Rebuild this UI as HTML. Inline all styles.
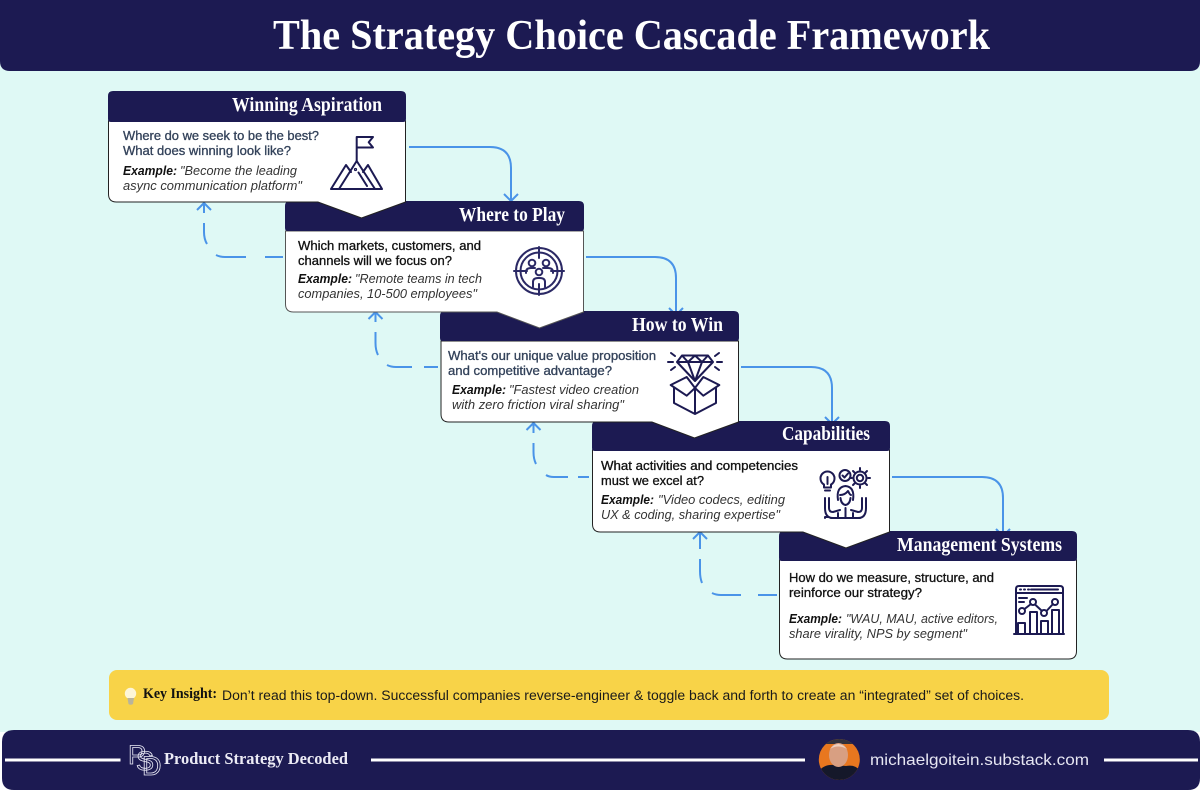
<!DOCTYPE html>
<html><head><meta charset="utf-8"><title>The Strategy Choice Cascade Framework</title>
<style>
html,body{margin:0;padding:0;background:#fff;width:1200px;height:793px;overflow:hidden}
svg{display:block}
text{font-family:"Liberation Sans",sans-serif}
.t{font-family:"Liberation Serif",serif;font-weight:700;font-size:20px;fill:#fff}
.q{font-size:12.500px;fill:#111;stroke:#111;stroke-width:.3}
.s{fill:#33425a;stroke:#33425a}
.eb{font-size:12.500px;font-weight:700;font-style:italic;fill:#111}
.e{font-size:12.500px;font-style:italic;fill:#333}
.card{fill:#fff;stroke:#222;stroke-width:1}
.hd{fill:#1c1a52}
.i{fill:none;stroke:#1c1a52;stroke-width:2;stroke-linejoin:round;stroke-linecap:round}
.a{fill:none;stroke:#4a94e8;stroke-width:2;stroke-linecap:butt;stroke-linejoin:round}
.p{font-size:27px;fill:none;stroke:#e8e8f4;stroke-width:.8}
</style></head><body>
<svg width="1200" height="793" viewBox="0 0 1200 793" xmlns="http://www.w3.org/2000/svg">
<rect width="1200" height="793" fill="#fff"/>
<rect y="0" width="1200" height="732" fill="#dff9f5"/>
<path class="hd" d="M0 0H1200V61Q1200 71 1190 71H10Q0 71 0 61Z"/>
<text x="273" y="49" textLength="717" lengthAdjust="spacingAndGlyphs" font-size="42" style="font-family:'Liberation Serif',serif;font-weight:700;fill:#fff">The Strategy Choice Cascade Framework</text>

<!-- solid arrows -->
<g class="a">
<path d="M409 147H490Q511 147 511 168V201M504 194L511 201L518 194"/>
<path d="M586 257H655Q676 257 676 278V315M669 308L676 315L683 308"/>
<path d="M741 367H811Q832 367 832 388V424M825 417L832 424L839 417"/>
<path d="M892 477H982Q1003 477 1003 498V536M996 529L1003 536L1010 529"/>
</g>
<!-- dashed arrows -->
<g class="a">
<path d="M283 257H265M246 257H225Q220 257 216 255M207 244Q204 239 204 232V223M204 213V203M197 210L204 203L211 210"/>
<path d="M438 367H424M412 367H396Q391 367 387 365M378 355Q375.500 350 375.500 343V332M375.500 322V312M368.500 319L375.500 312L382.500 319"/>
<path d="M589 477H578M568 477H554Q549 477 546 475M536 464Q533.500 459 533.500 452V443M533.500 433V423M526.500 430L533.500 423L540.500 430"/>
<path d="M777 595H758M741 595H721Q716 595 712 593M702 583Q700 578 700 571V559M700 549V532M693 539L700 532L707 539"/>
</g>

<!-- Card 5 -->
<path class="card" d="M779.500 560V651Q779.500 659 787.500 659H1068.500Q1076.500 659 1076.500 651V560Z"/>
<path class="hd" d="M779 536Q779 531 784 531H1072Q1077 531 1077 536V558Q1077 561 1074 561H782Q779 561 779 558Z"/>
<text class="t" x="897" y="551" textLength="165" lengthAdjust="spacingAndGlyphs">Management Systems</text>
<text class="q" x="789" y="582" textLength="205" lengthAdjust="spacingAndGlyphs">How do we measure, structure, and</text>
<text class="q" x="789" y="597" textLength="133" lengthAdjust="spacingAndGlyphs">reinforce our strategy?</text>
<text class="eb" x="789" y="623" textLength="53" lengthAdjust="spacingAndGlyphs">Example:</text>
<text class="e" x="846" y="623" textLength="152" lengthAdjust="spacingAndGlyphs">"WAU, MAU, active editors,</text>
<text class="e" x="789" y="638" textLength="178" lengthAdjust="spacingAndGlyphs">share virality, NPS by segment"</text>
<g class="i">
<path d="M1016 633V589Q1016 586 1019 586H1060Q1063 586 1063 589V633M1016 593H1063M1031 589.500H1058M1019 598H1027M1019 602H1024"/>
<path d="M1020 589.500H1021M1024 589.500H1025M1028 589.500H1029" />
<path d="M1014 634H1064M1018 633V623H1025V633M1030 633V612H1037V633M1041 633V621H1048V633M1052 633V610H1059V633"/>
<circle cx="1022" cy="611" r="3"/><circle cx="1033" cy="602" r="3"/><circle cx="1044" cy="613" r="3"/><circle cx="1055" cy="602" r="3"/>
<path d="M1024.500 609L1031 604M1035 604.500L1042 611M1046.500 611L1053 604"/>
</g>

<!-- Card 4 -->
<path class="card" d="M592.500 450V524Q592.500 532 600.500 532H803L846 548L889.500 532V450Z"/>
<path class="hd" d="M592 426Q592 421 597 421H885Q890 421 890 426V448Q890 451 887 451H595Q592 451 592 448Z"/>
<text class="t" x="782" y="440" textLength="88" lengthAdjust="spacingAndGlyphs">Capabilities</text>
<text class="q" x="601" y="470" textLength="197" lengthAdjust="spacingAndGlyphs">What activities and competencies</text>
<text class="q" x="601" y="485" textLength="103" lengthAdjust="spacingAndGlyphs">must we excel at?</text>
<text class="eb" x="601" y="504" textLength="53" lengthAdjust="spacingAndGlyphs">Example:</text>
<text class="e" x="658" y="504" textLength="127" lengthAdjust="spacingAndGlyphs">"Video codecs, editing</text>
<text class="e" x="601" y="519" textLength="179" lengthAdjust="spacingAndGlyphs">UX &amp; coding, sharing expertise"</text>
<g class="i">
<path d="M824 484.500A7 7 0 1 1 831 484.500V487.500H824ZM825 490.500H830M827.500 484V477"/>
<circle cx="845" cy="475.500" r="5.500"/><path d="M842.500 475.500L844.500 477.500L848 473.500"/>
<circle cx="860" cy="478" r="3.200"/><circle cx="860" cy="478" r="6.500"/>
<path d="M860 470V468M860 488V486M852 478H850M870 478H868M854.500 472.500L853 471M867 485L865.500 483.500M865.500 472.500L867 471M853 485L854.500 483.500"/>
<path d="M838 500Q836 487 845.500 486Q855 487 853 500M840 495Q845 495 848 491Q850 495 851 495M840.500 498Q841 504 845.500 505Q850 504 850.500 498"/>
<path d="M825 498V508Q825 518 833 518H838V517M829 498V508Q829 512 833 512L840 510M825 518V517H829M866 498V508Q866 518 858 518H853M862 498V508Q862 512 858 512L851 510"/>
<path d="M831 518H860M838 517V513M853 517V513M845.500 508V518"/>
</g>

<!-- Card 3 -->
<path class="card" d="M441 341V414Q441 422 449 422H652L694.500 438L738.500 422V341Z"/>
<path class="hd" d="M440 341V316Q440 311 445 311H734Q739 311 739 316V338Q739 341 736 341H443Q440 341 440 338Z"/>
<text class="t" x="632" y="331" textLength="91" lengthAdjust="spacingAndGlyphs">How to Win</text>
<text class="q s" x="448" y="360" textLength="208" lengthAdjust="spacingAndGlyphs">What's our unique value proposition</text>
<text class="q s" x="448" y="375" textLength="164" lengthAdjust="spacingAndGlyphs">and competitive advantage?</text>
<text class="eb" x="452" y="394" textLength="54" lengthAdjust="spacingAndGlyphs">Example:</text>
<text class="e" x="509" y="394" textLength="130" lengthAdjust="spacingAndGlyphs">"Fastest video creation</text>
<text class="e" x="452" y="409" textLength="172" lengthAdjust="spacingAndGlyphs">with zero friction viral sharing"</text>
<g class="i">
<path d="M682 355.500H708L713 362L695 381L677 362ZM677 362H713M682 355.500L688 362L695 355.500L702 362L708 355.500M688 362L695 381L702 362"/>
<path d="M668 362H673M671 353L675 356M671 370L675 367M717 362H722M719 353L715 356M719 370L715 367"/>
<path d="M695 388L686.700 377L670.700 385L686.700 395.700L695 388L703.300 395.700L719.300 385L703.300 377L695 388Z"/>
<path d="M674 388V403L695 414L716 403V388M695 388V414"/>
</g>

<!-- Card 2 -->
<path class="card" d="M285.500 231V304Q285.500 312 293.500 312H497L539.500 328L583.500 312V231Z" style="stroke:#555"/>
<path class="hd" d="M285 231V206Q285 201 290 201H579Q584 201 584 206V228Q584 231 581 231H288Q285 231 285 228Z"/>
<text class="t" x="459" y="221" textLength="106" lengthAdjust="spacingAndGlyphs">Where to Play</text>
<text class="q" x="298" y="250" textLength="183" lengthAdjust="spacingAndGlyphs">Which markets, customers, and</text>
<text class="q" x="298" y="265" textLength="154" lengthAdjust="spacingAndGlyphs">channels will we focus on?</text>
<text class="eb" x="298" y="283" textLength="54" lengthAdjust="spacingAndGlyphs">Example:</text>
<text class="e" x="355" y="283" textLength="127" lengthAdjust="spacingAndGlyphs">"Remote teams in tech</text>
<text class="e" x="298" y="298" textLength="179" lengthAdjust="spacingAndGlyphs">companies, 10-500 employees"</text>
<g class="i" style="stroke:#2b2965">
<circle cx="539" cy="271" r="23"/><circle cx="539" cy="271" r="18.500"/>
<path d="M539 247V258M539 284V295M514 271H527M551 271H564"/>
<circle cx="532" cy="263" r="3.300"/><circle cx="546" cy="263" r="3.300"/><circle cx="539" cy="272" r="3.300"/>
<path d="M526 273V272Q526 268 531 268H535M553 273V272Q553 268 548 268H543M533 287V282Q533 278 538 278H540Q545 278 545 282V287"/>
</g>

<!-- Card 1 -->
<path class="card" d="M108.500 121V194Q108.500 202 116.500 202H318L361.500 218L405.500 202V121Z"/>
<path class="hd" d="M108 121V96Q108 91 113 91H401Q406 91 406 96V119Q406 122 403 122H111Q108 122 108 119Z"/>
<text class="t" x="232" y="111" textLength="150" lengthAdjust="spacingAndGlyphs">Winning Aspiration</text>
<text class="q s" x="123" y="140" textLength="196" lengthAdjust="spacingAndGlyphs">Where do we seek to be the best?</text>
<text class="q s" x="123" y="155" textLength="168" lengthAdjust="spacingAndGlyphs">What does winning look like?</text>
<text class="eb" x="123" y="175" textLength="54" lengthAdjust="spacingAndGlyphs">Example:</text>
<text class="e" x="180" y="175" textLength="117" lengthAdjust="spacingAndGlyphs">"Become the leading</text>
<text class="e" x="123" y="190" textLength="179" lengthAdjust="spacingAndGlyphs">async communication platform"</text>
<g class="i">
<path d="M356.700 162V137H373L368.700 142.300L373 147.500H357"/>
<path d="M331 189H382M339 189L356.700 161L375 189M331 189L346 165L351 172M363 172L368 165L382 189M358.500 172.500L367 186"/>
<circle cx="355.500" cy="169.500" r=".6"/>
</g>

<!-- Insight -->
<rect x="109" y="670" width="1000" height="50" rx="8" fill="#f8d348"/>
<circle cx="130.500" cy="693.500" r="5.700" fill="#fdf6d8"/>
<path d="M127.500 698L134 698L133 704Q130.500 705.500 128.500 704Z" fill="#b9b49c"/>
<text x="143" y="698" textLength="74" lengthAdjust="spacingAndGlyphs" style="font-family:'Liberation Serif',serif;font-weight:700;font-size:15px;fill:#111">Key Insight:</text>
<text x="222" y="700" textLength="802" lengthAdjust="spacingAndGlyphs" font-size="13.500" fill="#1a1a1a">Don’t read this top-down. Successful companies reverse-engineer &amp; toggle back and forth to create an “integrated” set of choices.</text>

<!-- Footer -->
<path class="hd" d="M2 742Q2 730 14 730H1188Q1200 730 1200 742V778Q1200 790 1188 790H14Q2 790 2 778Z"/>
<path d="M5 760H120.500M371 760H805M1104 760H1198" stroke="#fff" stroke-width="3" fill="none"/>
<text class="p" x="128" y="764">P</text>
<text class="p" x="136" y="770">S</text>
<text class="p" x="142" y="775">D</text>
<text x="164" y="764" textLength="184" lengthAdjust="spacingAndGlyphs" style="font-family:'Liberation Serif',serif;font-weight:700;font-size:17px;fill:#ecebf5">Product Strategy Decoded</text>
<clipPath id="av"><circle cx="839.300" cy="759.500" r="20.500"/></clipPath>
<g clip-path="url(#av)">
<rect x="818" y="738" width="42" height="42" fill="#e8771f"/>
<rect x="818" y="738" width="42" height="6" fill="#33323c"/>
<path d="M818 772Q824 764 834 765L846 766Q856 764 861 772V781H818Z" fill="#15182a"/>
<ellipse cx="838.500" cy="755" rx="9.500" ry="12" fill="#d89f82"/>
<path d="M830 749Q838 739 847 749Q838 744 830 749Z" fill="#eed0be"/>
</g>
<text x="870" y="765" textLength="219" lengthAdjust="spacingAndGlyphs" font-size="16" fill="#e6e6f2">michaelgoitein.substack.com</text>
</svg>
</body></html>
